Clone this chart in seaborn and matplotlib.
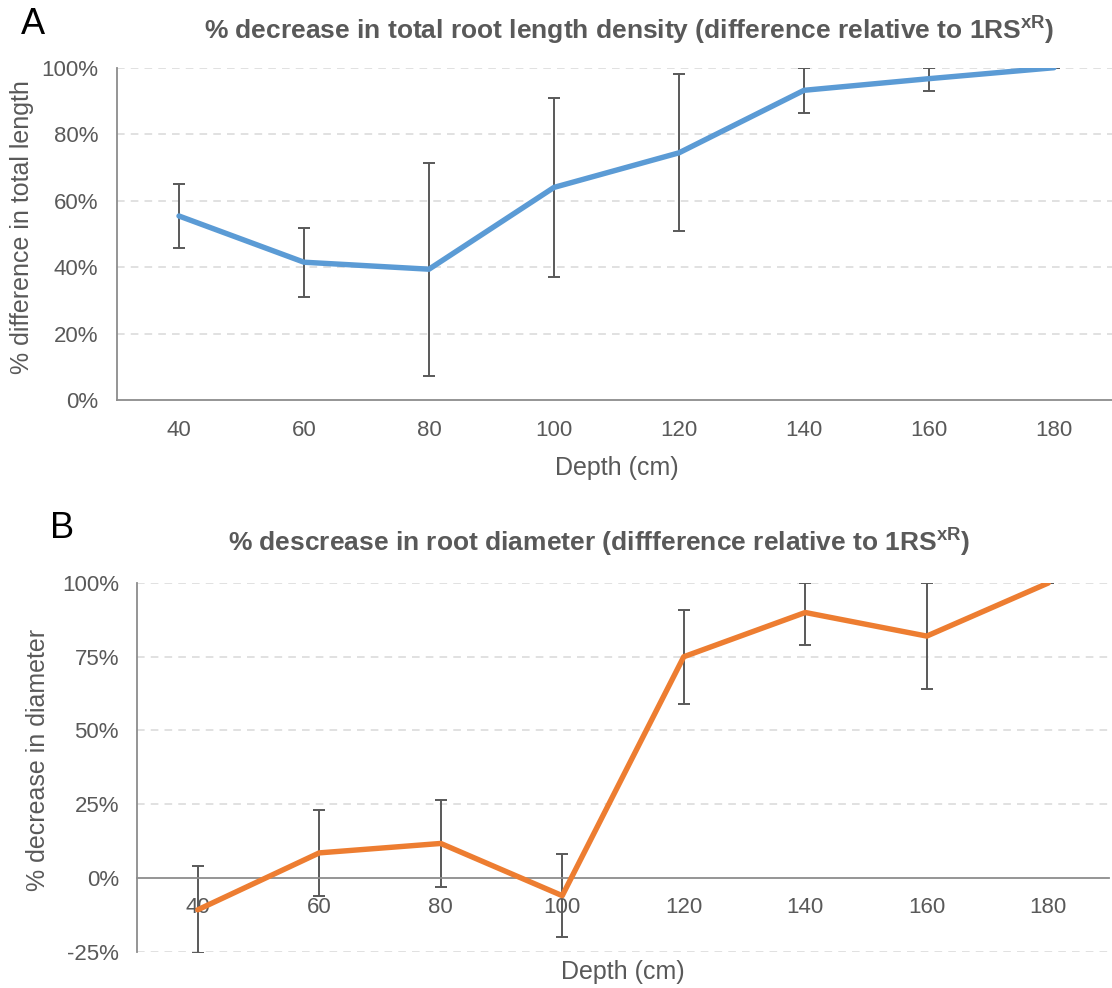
import numpy as np
import pandas as pd
import matplotlib
matplotlib.use("Agg")
import matplotlib.pyplot as plt
import seaborn as sns

# ---- data ----
depths = ["40", "60", "80", "100", "120", "140", "160", "180"]
length_decrease = [55.4, 41.5, 39.4, 64.0, 74.4, 93.2, 96.7, 100.0]
length_err = [9.5, 10.4, 32.0, 27.0, 23.6, 6.8, 3.7, 0.0]
diam_decrease = [-10.8, 8.5, 11.7, -6.0, 75.0, 90.0, 82.0, 100.0]
diam_err = [14.8, 14.5, 14.7, 14.0, 16.0, 11.0, 18.0, 0.0]
ticks_a = [0, 20, 40, 60, 80, 100]
ticks_b = [-25, 0, 25, 50, 75, 100]

sns.set_theme(style="white")
plt.rcParams["font.family"] = ["Liberation Sans", "DejaVu Sans"]
plt.rcParams["mathtext.fontset"] = "custom"
plt.rcParams["mathtext.rm"] = "Liberation Sans"
plt.rcParams["mathtext.bf"] = "Liberation Sans:bold"

TXT = "#595959"
AX = "#8C8C8C"
GRID = "#D9D9D9"

fig = plt.figure(figsize=(11.12, 9.88), dpi=100)


def panel(rect, values, errs, ylim, yticks, color, ylabel, xlab_y, ylab_xy):
    ax = fig.add_axes(rect)
    df = pd.DataFrame({"Depth": depths, "v": values})
    sns.lineplot(data=df, x="Depth", y="v", sort=False, color=color,
                 linewidth=3.9, ax=ax, zorder=3)
    v = np.asarray(values, float)
    e = np.asarray(errs, float)
    lo = v - e  # lower ends beyond the axis are simply clipped away
    hi = np.minimum(v + e, ylim[1])
    ax.errorbar(depths, values, yerr=[v - lo, hi - v], fmt="none",
                ecolor="#595959", elinewidth=1.4, capsize=4.5, capthick=1.4,
                zorder=2)
    ax.set_xlim(-0.5, len(depths) - 0.5)
    ax.set_ylim(*ylim)
    ax.set_yticks(yticks)
    ax.set_yticklabels([f"{t}%" for t in yticks])
    for t in yticks:
        if t != 0:
            ax.axhline(t, color=GRID, lw=1.1, ls=(0, (5, 4)), zorder=0)
    ax.spines["top"].set_visible(False)
    ax.spines["right"].set_visible(False)
    ax.spines["left"].set_color(AX)
    ax.spines["bottom"].set_color(AX)
    ax.spines["left"].set_linewidth(1.3)
    ax.spines["bottom"].set_linewidth(1.3)
    ax.spines["bottom"].set_position(("data", 0))
    ax.set_xticks(np.arange(len(depths)))
    ax.set_xticklabels(depths)
    ax.set_xticks(np.arange(len(depths) + 1) - 0.5, minor=True)
    ax.tick_params(axis="x", which="major", length=0, pad=14,
                   labelsize=16, labelcolor=TXT)
    ax.tick_params(axis="x", which="minor", length=6, width=1.3,
                   color=AX, direction="out")
    ax.tick_params(axis="y", length=0, pad=13, labelsize=16, labelcolor=TXT)
    ax.set_xlabel("Depth (cm)", fontsize=18, color=TXT)
    ax.xaxis.set_label_coords(0.5, xlab_y)
    ax.xaxis.label.set_verticalalignment("center")
    ax.set_ylabel(ylabel, fontsize=18, color=TXT)
    ax.yaxis.set_label_coords(*ylab_xy)
    ax.yaxis.label.set_verticalalignment("center")
    ax.yaxis.label.set_horizontalalignment("center")
    ax.grid(False)
    return ax


axA = panel([116.5 / 1112, (988 - 400.2) / 988, 1000 / 1112, 332.5 / 988],
            length_decrease, length_err, (0, 100), ticks_a, "#5B9BD5",
            "% difference in total length", -0.205, (-0.0945, 0.52))
axB = panel([137 / 1112, (988 - 951.7) / 988, 972 / 1112, 368.7 / 988],
            diam_decrease, diam_err, (-25, 100), ticks_b, "#ED7D31",
            "% decrease in diameter", -0.055, (-0.102, 0.52))

fig.text(629 / 1112, 1 - 30 / 988,
         r"% decrease in total root length density (difference relative to 1RS$^{\mathbf{xR}}$)",
         ha="center", va="center", fontsize=19, fontweight="bold", color=TXT)
fig.text(599 / 1112, 1 - 542 / 988,
         r"% descrease in root diameter (diffference relative to 1RS$^{\mathbf{xR}}$)",
         ha="center", va="center", fontsize=19, fontweight="bold", color=TXT)
fig.text(33 / 1112, 1 - 24 / 988, "A", ha="center", va="center",
         fontsize=26, color="black")
fig.text(62 / 1112, 1 - 528 / 988, "B", ha="center", va="center",
         fontsize=26, color="black")

fig.savefig("out.png", dpi=100)
